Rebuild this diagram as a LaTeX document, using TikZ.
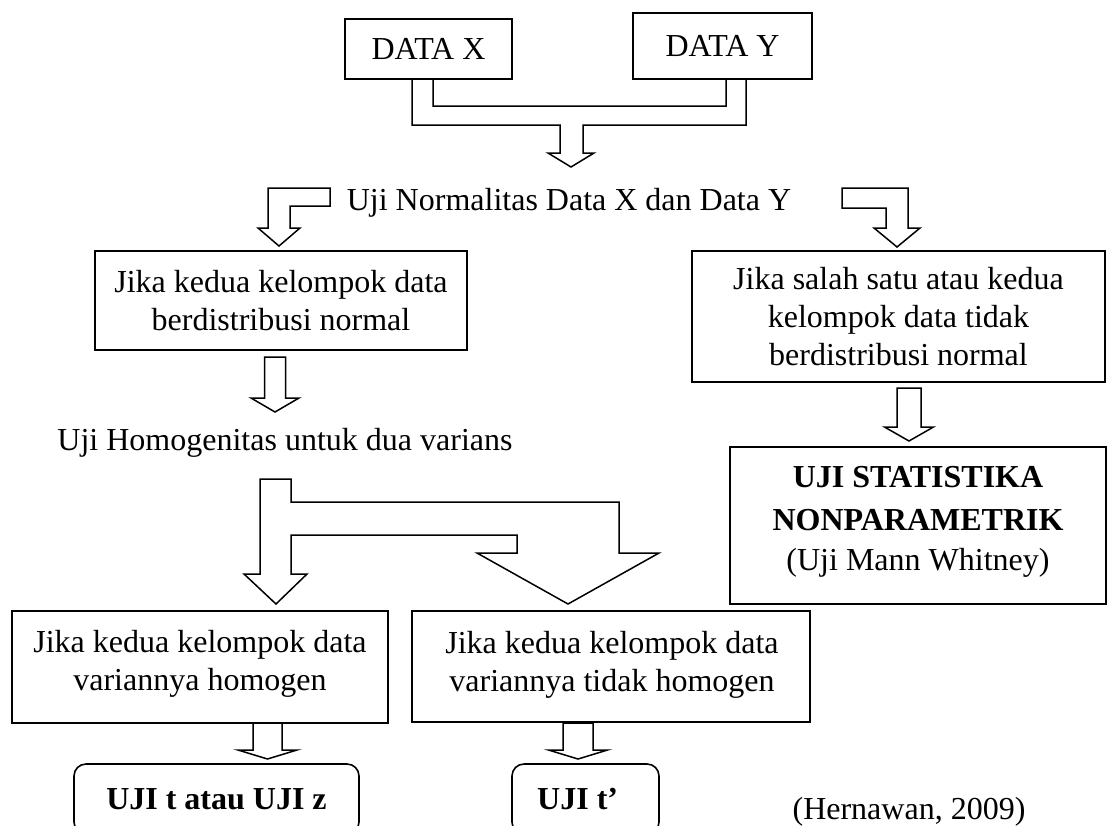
\documentclass[tikz,border=0pt]{standalone}
\usepackage{fontspec}
\setmainfont{Liberation Serif}
% Hollow block arrow pointing down: x, shaft top, head base, tip, shaft and head half widths.
\newcommand{\DownBlock}[6]{%
  \draw[blk] ({#1-#5},#2)--({#1-#5},#3)--({#1-#6},#3)--(#1,#4)
    --({#1+#6},#3)--({#1+#5},#3)--({#1+#5},#2)--cycle;
}

\begin{document}
\begin{tikzpicture}[x=1pt,y=-1pt,font=\fontsize{32}{38}\selectfont,
 box/.style={draw,line width=1.6pt,inner sep=0pt,align=center},
 result/.style={box,rounded corners=12pt},
 strong/.style={font=\fontsize{32}{38}\selectfont\bfseries},
 % Block arrows are filled white so that they cover what they overlap.
 blk/.style={draw,line width=1.5pt,line join=miter,fill=white}]
\useasboundingbox (0,0) rectangle (1107,825);

% Two data sets on top
\node[box,minimum width=167pt,minimum height=60pt] (datax) at (428.5,49) {DATA X};
\node[box,minimum width=179pt,minimum height=66pt] (datay) at (722.5,46) {DATA Y};

% Risers from both boxes join in one bar; a single arrow leaves its middle.
\draw[blk] (412,79)--(412,125)--(560,125)--(560,153)--(548,153)--(571,167)
  --(594,153)--(583,153)--(583,125)--(746,125)--(746,79)--(726,79)
  --(726,106)--(433,106)--(433,79)--cycle;

\node (normal) at (569,203) {Uji Normalitas Data X dan Data Y};

% Elbow arrows towards the two outcomes of the normality test
\draw[blk] (330,188)--(268,188)--(268,228)--(258,228)--(279,246)--(300,228)
  --(290,228)--(290,206)--(330,206)--cycle;
\draw[blk] (842,188)--(908,188)--(908,228)--(920,228)--(897,247)--(874,228)
  --(886,228)--(886,208)--(842,208)--cycle;

\node[box,minimum width=372pt,minimum height=99pt] (normbox) at (281,300.5)
  {Jika kedua kelompok data\\berdistribusi normal};
\node[box,minimum width=413pt,minimum height=131pt] (nonnormbox) at (898.5,316.5)
  {Jika salah satu atau kedua\\kelompok data tidak\\berdistribusi normal};

\DownBlock{275}{357}{398}{412}{10.5}{24}
\DownBlock{909}{388}{427}{441}{12}{24.5}

\node (homog) at (285,443) {Uji Homogenitas untuk dua varians};

\node[box,minimum width=376pt,minimum height=157pt] (nonpar) at (918,525.5) {};
\node[align=center] (nonpartxt) at (918,522) {\textbf{UJI STATISTIKA}\\[5pt]
  \textbf{NONPARAMETRIK}\\[2pt](Uji Mann Whitney)};

% Fork: narrow branch straight down, wide branch bent to the right
\draw[blk] (260,479)--(260,574)--(244,574)--(276,604)--(307,574)--(291,574)
  --(291,535)--(517,535)--(517,553)--(477,553)--(568,604)--(659,553)
  --(619,553)--(619,502)--(291,502)--(291,479)--cycle;

\node[box,minimum width=376pt,minimum height=112pt] (homogbox) at (200,667) {};
\node[align=center] (homogtxt) at (200,664)
  {Jika kedua kelompok data\\variannya homogen};
\node[box,minimum width=398pt,minimum height=111pt] (hetbox) at (611,666.5) {};
\node[align=center] (hettxt) at (612,665)
  {Jika kedua kelompok data\\variannya tidak homogen};

\DownBlock{267.5}{723}{750}{759}{14.5}{29.5}
\DownBlock{578}{723}{750}{759}{15}{29.5}

% Test boxes run past the lower edge of the page
\node[result,strong,minimum width=285pt,minimum height=70pt] (ujit) at (216.5,799)
  {UJI t atau UJI z};
\node[result,minimum width=147pt,minimum height=70pt] (ujitp) at (585.5,799) {};
\node[strong,anchor=base west,inner sep=0pt] (ujitptxt) at (ujit.base -| 537,0) {UJI t’};

\node (source) at (909,812) {(Hernawan, 2009)};
\end{tikzpicture}
\end{document}
